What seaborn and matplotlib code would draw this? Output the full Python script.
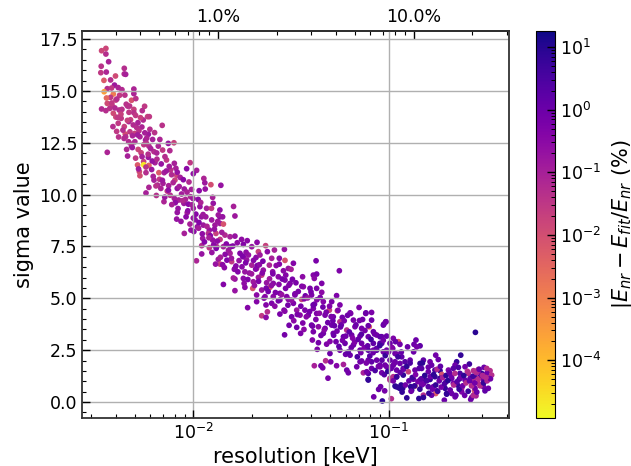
import numpy as np
import pandas as pd
import matplotlib
matplotlib.use("Agg")
import matplotlib.pyplot as plt
import seaborn as sns
from matplotlib.cm import ScalarMappable
from matplotlib.colors import LogNorm
from matplotlib.ticker import FuncFormatter, MultipleLocator, NullFormatter

# values, 10 per row, same order in all three lists
log10_res = [
    -2.448, -2.470, -2.448, -2.434, -2.472, -2.354, -2.474, -2.446, -2.354, -2.347,
    -2.399, -2.458, -2.424, -2.404, -2.385, -2.366, -2.441, -2.419, -2.457, -2.305,
    -2.305, -2.410, -2.378, -2.351, -2.424, -2.445, -2.397, -2.317, -2.295, -2.441,
    -2.417, -2.470, -2.448, -2.428, -2.380, -2.366, -2.337, -2.250, -2.327, -2.305,
    -2.330, -2.305, -2.262, -2.410, -2.397, -2.370, -2.235, -2.226, -2.257, -2.322,
    -2.385, -2.412, -2.354, -2.308, -2.291, -2.264, -2.223, -2.160, -2.393, -2.349,
    -2.300, -2.199, -2.383, -2.325, -2.274, -2.231, -2.347, -2.332, -2.300, -2.245,
    -2.209, -2.172, -2.129, -2.100, -2.317, -2.283, -2.228, -2.180, -2.202, -2.158,
    -2.121, -2.441, -2.337, -2.231, -2.138, -2.286, -2.228, -2.255, -2.197, -2.098,
    -2.017, -2.035, -1.984, -2.277, -2.243, -2.274, -2.177, -2.150, -2.090, -2.117,
    -2.001, -2.202, -2.086, -1.947, -1.942, -1.911, -1.860, -2.228, -2.184, -2.156,
    -2.127, -2.095, -2.023, -2.083, -2.047, -2.010, -1.971, -1.940, -2.243, -2.190,
    -2.134, -2.167, -1.976, -2.098, -2.076, -2.015, -1.902, -2.151, -2.049, -1.899,
    -1.967, -1.865, -1.795, -1.788, -2.083, -2.032, -2.001, -1.933, -1.908, -1.865,
    -2.086, -2.001, -1.959, -1.937, -1.851, -2.255, -2.047, -2.013, -1.980, -1.950,
    -1.919, -1.890, -1.864, -1.847, -1.873, -1.907, -1.924, -1.885, -1.953, -1.902,
    -1.864, -1.839, -1.813, -1.788, -1.754, -1.725, -1.675, -1.631, -1.586, -1.535,
    -1.958, -1.919, -1.881, -1.847, -1.810, -1.745, -1.702, -1.668, -1.622, -1.958,
    -1.985, -1.873, -1.864, -1.887, -1.842, -1.813, -1.805, -1.788, -1.762, -1.745,
    -1.719, -1.680, -1.660, -1.728, -1.702, -1.677, -1.643, -1.651, -1.600, -1.561,
    -1.532, -1.489, -1.373, -1.612, -1.595, -1.561, -1.515, -1.501, -1.540, -1.442,
    -1.387, -1.370, -1.382, -1.254, -1.791, -1.737, -1.745, -1.788, -1.847, -1.788,
    -1.737, -1.694, -1.668, -1.626, -1.697, -1.677, -1.651, -1.609, -1.592, -1.566,
    -1.532, -1.506, -1.476, -1.438, -1.404, -1.370, -1.344, -1.344, -1.396, -1.268,
    -1.634, -1.592, -1.558, -1.523, -1.481, -1.447, -1.489, -1.515, -1.558, -1.600,
    -1.629, -1.723, -1.677, -1.622, -1.651, -1.629, -1.558, -1.537, -1.498, -1.472,
    -1.430, -1.387, -1.336, -1.293, -1.251, -1.305, -1.264, -1.196, -1.153, -1.119,
    -1.089, -1.455, -1.413, -1.370, -1.327, -1.285, -1.239, -1.182, -1.135, -1.089,
    -1.511, -1.472, -1.435, -1.396, -1.361, -1.327, -1.293, -1.251, -1.216, -1.174,
    -1.140, -1.101, -1.026, -1.015, -1.534, -1.452, -1.387, -1.336, -1.285, -1.233,
    -1.191, -1.148, -1.106, -1.063, -1.037, -0.978, -0.952, -1.392, -1.361, -1.319,
    -1.271, -1.225, -1.182, -1.140, -1.080, -1.046, -0.995, -1.367, -1.302, -1.251,
    -1.199, -1.148, -1.106, -1.063, -1.012, -0.969, -1.222, -1.324, -1.382, -1.348,
    -1.339, -1.298, -1.268, -1.233, -1.216, -1.208, -1.165, -1.131, -1.106, -1.140,
    -1.089, -1.046, -1.037, -1.012, -0.978, -1.312, -1.106, -0.995, -0.961, -0.964,
    -0.944, -1.043, -1.053, -1.022, -1.078, -1.034, -0.988, -0.862, -0.872, -0.905,
    -0.944, -0.841, -0.858, -0.981, -0.558, -0.761, -0.633, -0.748, -0.654, -0.662,
    -0.589, -0.645, -0.961, -0.935, -0.892, -0.995, -0.969, -0.944, -0.918, -0.841,
    -0.790, -0.782, -0.824, -0.986, -0.961, -0.927, -0.901, -0.867, -0.833, -0.799,
    -0.765, -0.739, -0.696, -0.671, -0.611, -0.514, -0.483, -0.543, -0.568, -0.594,
    -0.526, -0.500, -0.475, -0.560, -0.535, -0.585, -0.637, -0.679, -0.730, -0.927,
    -0.875, -0.995, -0.978, -0.841, -0.816, -0.790, -0.765, -0.739, -0.708, -0.671,
    -0.640, -0.611, -0.492, -0.517, -0.543, -0.568, -0.650, -0.628, -0.563, -0.517,
    -0.492, -0.509, -0.969, -0.952, -0.938, -0.930, -0.867, -0.889, -0.884, -0.833,
    -0.799, -0.773, -0.756, -0.713, -0.705, -0.662, -0.679, -0.761, -0.782, -0.824,
    -0.847, -0.824, -0.909, -0.717, -0.577, -0.555, -0.582, -0.628, -0.560, -1.118,
    -1.199, -1.029, -1.017, -1.080, -1.046, -1.037, -1.080, -1.029, -1.063, -1.106,
    -1.148, -1.046, -1.089, -1.114, -1.020, -1.106, -0.500, -0.520, -0.545, -0.570,
    # denser parts of the band
    -2.418, -2.392, -2.371, -2.344, -2.331, -2.296, -2.284, -2.271, -2.402, -2.361,
    -2.338, -2.312, -2.279, -2.249, -2.387, -2.355, -2.318, -2.286, -2.254, -2.239,
    -2.342, -2.313, -2.268, -2.241, -2.219, -2.296, -2.263, -2.232, -2.211, -2.188,
    -2.281, -2.243, -2.214, -2.187, -2.165, -2.146, -2.124, -2.206, -2.174, -2.139,
    -2.112, -2.083, -2.068, -2.192, -2.159, -2.128, -2.104, -2.073, -2.052, -2.033,
    -2.147, -2.119, -2.093, -2.061, -2.041, -2.026, -2.002, -2.111, -2.079, -2.056,
    -2.029, -2.007, -1.988, -1.963, -2.064, -2.038, -2.018, -1.992, -1.972, -1.951,
    -1.998, -1.974, -1.955, -1.931, -1.914, -1.893, -1.876, -1.944, -1.921, -1.897,
    -1.878, -1.855, -1.832, -1.906, -1.884, -1.862, -1.838, -1.821, -1.799, -1.776,
    -1.851, -1.829, -1.806, -1.783, -1.767, -1.749, -1.731, -1.796, -1.773, -1.752,
    -1.733, -1.714, -1.693, -1.674, -1.741, -1.722, -1.703, -1.682, -1.663, -1.645,
    -1.688, -1.667, -1.648, -1.628, -1.611, -1.594, -1.577, -1.639, -1.618, -1.601,
    -1.581, -1.563, -1.546, -1.528, -1.584, -1.566, -1.549, -1.529, -1.512, -1.494,
    -1.533, -1.517, -1.499, -1.481, -1.464, -1.446, -1.428, -1.487, -1.469, -1.451,
    -1.433, -1.416, -1.399, -1.381, -1.441, -1.423, -1.406, -1.388, -1.369, -1.352,
    -1.391, -1.374, -1.356, -1.338, -1.321, -1.304, -1.287, -1.348, -1.331, -1.313,
    -1.296, -1.279, -1.261, -1.244, -1.302, -1.283, -1.266, -1.248, -1.229, -1.212,
    -1.256, -1.238, -1.221, -1.203, -1.186, -1.169, -1.151, -1.209, -1.193, -1.176,
    -1.158, -1.141, -1.123, -1.106, -1.162, -1.144, -1.127, -1.109, -1.092, -1.074,
    -1.116, -1.098, -1.081, -1.064, -1.047, -1.029, -1.012, -1.071, -1.054, -1.036,
    -1.019, -1.002, -0.985, -0.967, -1.024, -1.006, -0.989, -0.972, -0.954, -0.937,
    -0.978, -0.961, -0.943, -0.926, -0.909, -0.892, -0.874, -0.933, -0.916, -0.898,
    -0.881, -0.864, -0.846, -0.829, -0.887, -0.869, -0.852, -0.835, -0.817, -0.799,
    -0.842, -0.824, -0.807, -0.789, -0.772, -0.754, -0.737, -0.796, -0.778, -0.761,
    -0.743, -0.726, -0.708, -0.691, -0.751, -0.733, -0.716, -0.698, -0.681, -0.663,
    -0.705, -0.687, -0.669, -0.652, -0.634, -0.617, -0.599, -0.658, -0.641, -0.623,
    -0.606, -0.588, -0.571, -0.553, -0.613, -0.595, -0.578, -0.561, -0.543, -0.526,
    -0.569, -0.551, -0.534, -0.516, -0.498, -0.481, -0.557, -0.539, -0.522, -0.504,
]

sigma_value = [
    17.05, 16.94, 16.78, 16.41, 16.19, 16.09, 15.88, 15.91, 15.82, 15.80,
    15.72, 15.51, 15.53, 15.28, 15.16, 15.06, 15.11, 15.14, 14.96, 15.09,
    14.87, 14.85, 14.79, 14.80, 14.69, 14.66, 14.56, 14.55, 14.63, 14.40,
    14.32, 14.13, 14.05, 14.16, 14.08, 14.11, 14.27, 14.26, 14.27, 14.11,
    13.97, 13.95, 14.05, 13.92, 13.74, 13.68, 13.76, 13.76, 13.60, 13.61,
    13.44, 13.28, 13.28, 13.36, 13.24, 13.26, 13.15, 13.34, 13.05, 12.92,
    12.95, 12.99, 12.78, 13.03, 12.79, 12.91, 12.79, 12.55, 12.55, 12.63,
    12.66, 12.66, 12.47, 12.50, 12.34, 12.18, 12.34, 12.34, 12.07, 12.15,
    12.12, 12.04, 11.86, 11.80, 11.67, 11.43, 11.41, 11.59, 11.54, 11.51,
    11.54, 11.25, 11.17, 11.11, 11.06, 10.91, 11.06, 11.06, 11.27, 11.19,
    11.01, 10.70, 10.94, 10.78, 10.57, 10.48, 10.45, 10.35, 10.46, 10.54,
    10.43, 10.70, 10.61, 10.30, 10.27, 10.25, 10.19, 10.27, 10.08, 9.96,
    10.17, 10.30, 9.77, 9.82, 9.74, 9.90, 9.87, 9.66, 9.58, 9.58,
    9.42, 9.26, 9.43, 8.97, 9.14, 9.13, 9.34, 9.34, 9.34, 8.93,
    8.82, 8.87, 8.93, 8.93, 8.93, 11.44, 8.13, 8.29, 8.45, 8.53,
    8.29, 8.53, 8.61, 8.58, 9.02, 8.78, 8.13, 8.13, 7.89, 7.81,
    7.84, 8.05, 7.97, 8.00, 7.84, 7.78, 7.70, 7.54, 7.33, 7.36,
    7.54, 7.44, 7.49, 7.49, 7.49, 7.60, 7.49, 7.25, 7.25, 7.14,
    6.81, 6.88, 6.65, 6.65, 6.48, 7.17, 6.77, 6.44, 7.17, 7.00,
    7.09, 6.97, 7.09, 6.85, 6.60, 6.44, 6.36, 6.12, 6.93, 6.93,
    6.83, 6.69, 6.81, 6.60, 6.28, 6.65, 6.44, 6.40, 6.33, 6.04,
    6.12, 6.17, 5.96, 6.33, 6.40, 6.28, 5.96, 5.93, 5.67, 5.37,
    5.53, 5.80, 6.01, 5.75, 5.48, 5.16, 5.40, 5.53, 5.72, 6.04,
    5.88, 5.72, 5.75, 5.56, 5.48, 5.48, 5.72, 5.29, 5.16, 5.13,
    5.08, 5.08, 5.24, 5.08, 5.16, 4.95, 4.76, 4.95, 4.92, 4.76,
    4.68, 4.55, 4.84, 4.35, 4.16, 4.08, 4.24, 4.43, 4.11, 4.43,
    4.43, 4.51, 4.84, 4.84, 4.68, 4.43, 4.40, 4.27, 4.56, 4.27,
    4.32, 4.19, 4.19, 4.27, 4.19, 4.11, 4.08, 3.95, 3.98, 3.95,
    3.70, 3.60, 3.50, 3.71, 3.63, 3.55, 3.71, 3.87, 3.47, 3.63,
    3.55, 3.63, 3.76, 3.87, 3.24, 3.31, 3.39, 3.31, 3.31, 3.15,
    3.23, 3.18, 3.15, 3.23, 3.15, 3.07, 2.91, 2.99, 2.86, 2.79,
    2.91, 2.83, 2.75, 2.83, 2.83, 2.83, 2.83, 2.54, 2.34, 2.50,
    2.26, 2.50, 2.50, 2.50, 2.50, 2.34, 2.30, 1.99, 1.75, 1.75,
    1.65, 1.94, 1.75, 1.81, 1.54, 1.41, 1.70, 1.41, 1.38, 1.98,
    1.94, 1.78, 1.41, 1.70, 1.78, 1.15, 1.06, 1.06, 1.22, 0.74,
    0.66, 0.74, 0.61, 0.54, 0.25, 0.05, 0.16, 2.99, 2.78, 2.66,
    2.78, 2.71, 2.66, 2.58, 3.36, 2.26, 2.26, 2.05, 1.94, 1.78,
    1.83, 1.67, 2.31, 2.18, 2.02, 2.02, 1.94, 1.86, 1.94, 1.86,
    1.94, 1.78, 2.02, 1.70, 1.54, 1.62, 1.46, 1.54, 1.62, 1.46,
    1.54, 1.51, 1.54, 1.62, 1.70, 1.67, 1.51, 1.57, 1.51, 1.38,
    1.38, 1.38, 1.30, 1.19, 1.22, 1.14, 1.38, 1.14, 1.33, 1.30,
    1.10, 1.14, 1.22, 1.06, 1.06, 1.09, 1.22, 1.14, 0.98, 0.90,
    1.11, 1.06, 1.14, 1.06, 0.90, 0.90, 0.82, 0.66, 0.54, 0.74,
    0.66, 0.54, 0.77, 0.70, 0.82, 0.66, 0.77, 0.74, 0.57, 0.82,
    0.74, 0.74, 0.54, 0.66, 0.41, 0.25, 0.41, 0.41, 0.33, 0.33,
    0.17, 0.22, 0.20, 0.09, 0.22, 0.30, 0.12, 0.49, 0.66, 4.30,
    4.30, 3.71, 3.87, 3.39, 3.15, 2.83, 2.50, 2.42, 2.02, 2.02,
    1.94, 1.70, 1.62, 1.46, 1.78, 1.09, 1.62, 1.25, 1.45, 1.10,
    # denser parts of the band
    14.42, 14.61, 13.88, 14.36, 13.52, 13.82, 13.47, 13.71, 14.18, 13.11,
    13.58, 12.84, 13.08, 12.98, 13.72, 12.71, 12.43, 12.88, 12.41, 12.73,
    12.18, 12.27, 12.02, 12.48, 12.22, 11.76, 11.83, 11.95, 11.62, 12.01,
    11.24, 11.33, 11.21, 11.71, 11.48, 11.83, 11.36, 10.88, 10.74, 11.14,
    10.96, 11.08, 10.83, 10.42, 10.69, 10.21, 10.58, 10.39, 10.72, 10.12,
    9.88, 9.97, 9.61, 10.03, 9.77, 9.54, 9.81, 9.52, 9.33, 9.71,
    9.22, 9.51, 9.06, 9.62, 8.71, 8.93, 8.58, 8.79, 8.66, 9.04,
    8.22, 8.38, 8.11, 8.47, 8.02, 8.33, 8.71, 7.72, 7.92, 7.58,
    7.76, 8.18, 7.62, 7.21, 7.41, 6.98, 7.12, 7.32, 7.52, 7.68,
    6.62, 6.84, 6.93, 6.56, 6.82, 7.04, 7.22, 5.98, 6.28, 6.52,
    6.71, 6.22, 6.83, 6.58, 5.72, 5.91, 6.18, 6.41, 6.62, 6.79,
    5.62, 5.82, 6.22, 5.49, 5.94, 6.18, 6.58, 5.01, 5.33, 5.62,
    5.28, 5.67, 5.93, 6.12, 4.62, 4.88, 5.18, 5.48, 5.63, 5.92,
    4.38, 4.67, 4.91, 5.22, 5.33, 5.58, 5.12, 3.92, 4.22, 4.62,
    4.98, 5.02, 5.31, 4.72, 3.81, 4.11, 4.36, 4.68, 4.93, 5.04,
    3.66, 3.98, 4.28, 4.58, 4.33, 4.62, 3.92, 3.21, 3.48, 3.83,
    4.12, 3.68, 4.42, 3.72, 2.92, 3.22, 3.42, 3.62, 3.92, 4.18,
    2.68, 2.97, 3.18, 3.38, 3.08, 3.72, 3.93, 2.41, 2.62, 2.88,
    3.02, 3.27, 3.45, 3.68, 2.18, 2.38, 2.62, 2.71, 3.02, 3.28,
    1.88, 2.22, 2.38, 2.58, 2.72, 2.98, 3.18, 1.52, 1.72, 2.02,
    2.24, 2.42, 2.63, 2.91, 1.32, 1.48, 1.62, 1.88, 2.18, 2.41,
    1.02, 1.21, 1.42, 1.58, 1.72, 1.88, 2.42, 0.48, 0.82, 1.02,
    1.18, 1.32, 1.62, 1.88, 0.52, 0.78, 0.98, 1.12, 1.28, 1.68,
    0.62, 0.88, 1.02, 1.22, 1.32, 1.58, 1.72, 0.42, 0.62, 0.82,
    1.02, 1.18, 1.28, 1.42, 0.52, 0.72, 0.88, 1.04, 1.22, 1.38,
    0.38, 0.58, 0.82, 0.98, 1.18, 1.28, 1.48, 0.32, 0.62, 0.78,
    0.92, 1.02, 1.24, 1.42, 0.32, 0.52, 0.78, 0.92, 1.12, 1.28,
    0.32, 0.48, 0.78, 0.92, 1.02, 1.12, 1.48, 1.58, 1.28, 1.18,
]

err_pct = [
    .015, .015, .05, .09, .04, .05, .03, .07, .06, .1,
    .012, .006, .05, .15, .08, .06, .05, .03, .0003, .08,
    .08, .0012, .03, .04, .03, .003, .02, .008, .04, .012,
    .015, .06, .05, .04, .05, .04, .05, .03, .04, .02,
    .03, .04, .05, .012, .015, .03, .02, .03, .06, .02,
    .03, .05, .02, .06, .05, .08, .05, .04, .03, .01,
    .02, .04, .04, .03, .08, .15, .05, .06, .07, .12,
    .1, .08, .2, .02, .1, .015, .05, .08, .05, .03,
    .06, .08, .1, .15, .03, .006, .004, .02, .1, .1,
    .03, .3, .12, .012, .05, .01, .006, .1, .1, .04,
    .25, .1, .015, .08, .15, .01, .2, .08, .07, .1,
    .1, .02, .06, .2, .15, .1, .3, .2, .1, .05,
    .03, .08, .3, .1, .1, .08, .1, .08, .15, .2,
    .2, .25, .1, .15, .2, .1, .15, .1, .03, .3,
    .2, .2, .2, .15, .2, .00002, .1, .2, .2, .15,
    .2, .15, .15, .008, .15, .15, .05, .02, .15, .2,
    .03, .06, .1, .2, .25, .3, .3, .02, .1, .2,
    .06, .03, .05, .1, .3, .4, .2, .02, .3, .2,
    .08, .15, .02, .2, .3, .1, .03, .2, .4, .3,
    .2, .3, .15, .2, .1, .1, .2, .02, .1, .3,
    .008, .4, .6, .08, .3, .4, .2, .1, .3, .3,
    .4, .6, .3, .5, .3, .2, .3, .2, .4, .2,
    .3, .15, .15, .2, .008, .3, .2, .008, .3, .3,
    .4, .5, .6, .3, .6, .5, .5, .3, .5, .5,
    .3, .3, .5, .4, .5, .02, .5, .3, .5, .5,
    .4, .4, .4, .05, .03, .3, .6, .4, .7, .2,
    .5, .5, .4, .6, .5, .02, .02, .5, .5, .5,
    .6, .3, .6, .5, .6, .8, .8, .6, .8, .9,
    .7, .8, .3, .8, .3, .7, .8, .05, .05, .6,
    .7, .006, .8, .6, .7, .5, .6, .8, .8, 1.,
    .8, .8, 1., .7, 1., .5, .006, .4, .7, .5,
    .8, 1., .9, .8, 1.5, 2., 1., .5, .9, .8,
    1., 1., 2., 2., .8, .9, 1., .05, .1, .8,
    .6, .5, .4, .1, .8, .8, .8, .1, 2., .8,
    1.5, 1., .8, .7, 1., .6, 6., .05, .8, 8.,
    9., .9, 1., .7, .8, 8., .05, 1., .9, 1.,
    .8, 1.5, .7, .9, 9., .8, 7., .9, 6., 1.,
    5., 3., .8, 1.5, 1., 1.2, .9, 1., 2., 6.,
    .8, 1., 1.5, .9, 1., 3., .02, .9, 2., 1.,
    3., 7., .5, 2., .8, 1., .05, .03, .05, .05,
    8., 1., .05, 7., 2., 1., 3., 1., .008, 7.,
    1., .05, .05, 1., 6., 7., 6., 6., 1., .7,
    7., 1., 1., .8, .05, 1., 6., .05, .008, .8,
    1., 1.5, 8., 7., 8., 7., .005, 8., 7., .8,
    2., 1., .8, 6., 8., .8, 1., .005, 1., .05,
    8., 7., 8., 1., 1., .1, 1., .5, 1., 1.,
    .6, 1., .8, 1., 1.5, 2., .8, .7, 1., .9,
    .8, .7, 1., .8, .8, 7., .05, .05, .1, .05,
    # denser parts of the band
    .03, .05, .02, .04, .07, .03, .09, .02, .06, .05,
    .02, .08, .04, .1, .03, .06, .05, .12, .03, .08,
    .07, .15, .02, .04, .09, .03, .1, .05, .2, .08,
    .12, .04, .15, .06, .2, .05, .12, .09, .03, .15,
    .06, .2, .1, .04, .15, .25, .07, .12, .3, .09,
    .18, .05, .25, .12, .08, .3, .15, .1, .2, .06,
    .25, .12, .35, .08, .2, .3, .1, .25, .4, .15,
    .3, .12, .25, .08, .35, .2, .15, .4, .1, .3,
    .25, .12, .35, .2, .5, .1, .3, .15, .4, .25,
    .3, .45, .15, .35, .2, .5, .25, .12, .4, .3,
    .5, .2, .35, .6, .25, .45, .15, .4, .3, .55,
    .2, .45, .35, .6, .15, .5, .3, .4, .7, .25,
    .5, .35, .6, .4, .3, .7, .2, .5, .45, .6,
    .35, .7, .25, .5, .6, .4, .8, .3, .55, .7,
    .45, .2, .65, .8, .5, .35, .7, .9, .4, .6,
    .75, .5, .3, .85, .6, .45, 1., .7, .35, .9,
    .6, 1.1, .5, .8, .4, 1., .7, 1.2, .55, .9,
    1.3, .6, .8, 1.5, .4, 1., .7, 1.6, .9, .5,
    1.2, 2., .7, 1., 3., .8, .5, 1.2, 4., .9,
    .6, 2., 1., 1.4, 5., .8, 1.1, 3., .7, 1.5,
    6., .9, .4, 1.2, 2., 7., 1., .8, 5., 1.3,
    .7, 6., 1.5, .9, 8., 3., 1., 7., .8, 1.3,
    5., .5, 2., 8., 1., 6., .7, 1.5, 9., 1.1,
    7., .8, 3., 1., 8., .06, 1.4, 6., .9, 7.,
    1., .1, 8., 1.2, 5., .7, 3., 9., .9, .05,
    7., 1.1, .06, 2., .8, 8., .05, 1.3, 6., .9,
    .05, 1.2, 4., .07, 1., 6., .06, .8, .05, 1.5,
    .06, 1., .05, 7., .08, .9, .05, 1.2, .07, .06,
]

# top axis shows resolution as percent of this energy
e_ref = 1.336
cb_ticks = [1e-4, 1e-3, 1e-2, 1e-1, 1e0, 1e1]

df = pd.DataFrame({"res": 10.0 ** np.array(log10_res), "sigma": sigma_value, "err": err_pct})
norm = LogNorm(vmin=1.2e-5, vmax=18)

fig = plt.figure(figsize=(6.31, 4.66), dpi=100)
ax = fig.add_axes([82 / 631, 1 - 418 / 466, 427 / 631, 387 / 466])

sns.scatterplot(data=df, x="res", y="sigma", hue="err", hue_norm=norm, palette="plasma_r",
                s=17, linewidth=0, legend=False, ax=ax)
ax.set_xscale("log")
ax.set_xlim(0.00269, 0.411)
ax.set_ylim(-0.77, 17.89)
ax.grid(True, which="major", color="#b0b0b0", lw=1.0)
ax.yaxis.set_major_locator(MultipleLocator(2.5))
ax.yaxis.set_minor_locator(MultipleLocator(0.5))
ax.yaxis.set_major_formatter(FuncFormatter(lambda v, p: f"{v:.1f}"))
ax.tick_params(which="major", direction="in", length=6, width=1.0, labelsize=12.5)
ax.tick_params(which="minor", direction="in", length=3, width=0.8)
ax.set_xlabel("resolution [keV]", fontsize=15, labelpad=3)
ax.set_ylabel("sigma value", fontsize=15, labelpad=3)
for sp in ax.spines.values():
    sp.set_linewidth(1.3)
    sp.set_color("#333333")

top = ax.secondary_xaxis("top", functions=(lambda x: x / e_ref * 100, lambda p: p * e_ref / 100))
top.xaxis.set_major_formatter(FuncFormatter(lambda v, p: f"{v:.1f}%"))
top.xaxis.set_minor_formatter(NullFormatter())
top.tick_params(which="major", direction="in", length=6, width=1.0, labelsize=12.5)
top.tick_params(which="minor", direction="in", length=3, width=0.8)
top.spines["top"].set_linewidth(1.3)

cax = fig.add_axes([536 / 631, 1 - 418 / 466, 19 / 631, 387 / 466])
sm = ScalarMappable(norm=norm, cmap="plasma_r")
cb = fig.colorbar(sm, cax=cax)
cb.set_ticks(cb_ticks)
cb.ax.tick_params(which="major", direction="in", length=6, width=1.0, labelsize=12.5)
cb.ax.tick_params(which="minor", direction="in", length=3, width=0.7)
cb.set_label(r"$|E_{nr}-E_{fit}/E_{nr}$ (%)", fontsize=15, labelpad=6)

fig.savefig("out.png", dpi=100)
